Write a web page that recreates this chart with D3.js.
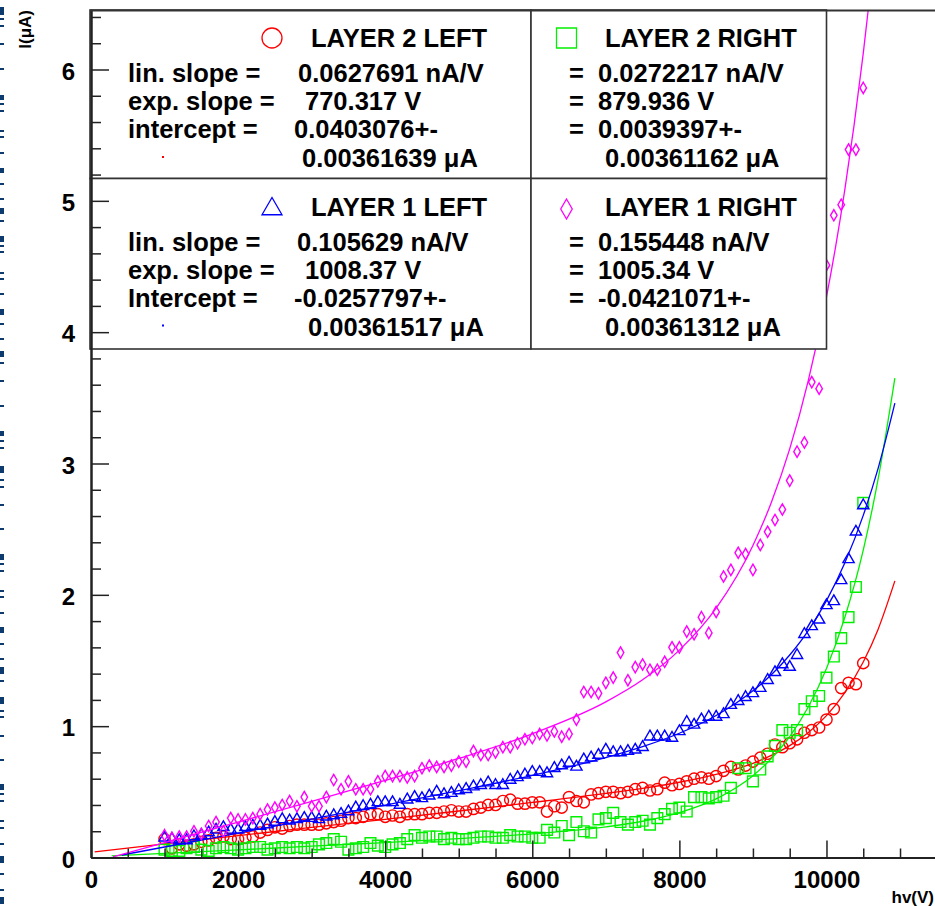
<!DOCTYPE html>
<html>
<head>
<meta charset="UTF-8">
<style>
  body { margin: 0; background: #fff; }
  svg text { font-family: "Liberation Sans", Arial, Helvetica, sans-serif; font-weight: bold; }
</style>
</head>
<body>
<div id="chart"></div>
<script src="https://cdn.jsdelivr.net/npm/d3@7"></script>
<script>
// high voltage settings (V)
var hv = [1000,1100,1200,1300,1400,1500,1600,1700,1800,1900,
          2000,2100,2200,2300,2400,2500,2600,2700,2800,2900,
          3000,3100,3200,3300,3400,3500,3600,3700,3800,3900,
          4000,4100,4200,4300,4400,4500,4600,4700,4800,4900,
          5000,5100,5200,5300,5400,5500,5600,5700,5800,5900,
          6000,6100,6200,6300,6400,6500,6600,6700,6800,6900,
          7000,7100,7200,7300,7400,7500,7600,7700,7800,7900,
          8000,8100,8200,8300,8400,8500,8600,8700,8800,8900,
          9000,9100,9200,9300,9400,9500,9600,9700,9800,9900,
          10000,10100,10200,10300,10400,10500];

// measured currents (uA)
var layer2Left = [0.14,0.07,0.10,0.09,0.10,0.12,0.13,0.15,0.16,0.14,
                  0.14,0.15,0.16,0.19,0.21,0.23,0.22,0.24,0.25,0.25,
                  0.25,0.25,0.26,0.27,0.28,0.30,0.30,0.31,0.33,0.33,
                  0.31,0.32,0.31,0.33,0.33,0.33,0.34,0.34,0.35,0.36,
                  0.35,0.35,0.37,0.38,0.40,0.40,0.43,0.44,0.41,0.41,
                  0.42,0.42,0.35,0.39,0.38,0.46,0.43,0.42,0.48,0.49,
                  0.50,0.50,0.49,0.50,0.52,0.53,0.51,0.52,0.57,0.55,
                  0.56,0.58,0.60,0.61,0.60,0.62,0.66,0.69,0.67,0.70,
                  0.73,0.76,0.79,0.86,0.84,0.87,0.90,0.95,0.97,0.99,
                  1.05,1.13,1.29,1.33,1.32,1.48];
var layer2Right = [0.06,0.05,0.05,0.07,0.08,0.06,0.05,0.07,0.08,0.07,
                   0.06,0.07,0.08,0.08,0.06,0.07,0.08,0.07,0.08,0.07,
                   0.08,0.10,0.11,0.14,0.12,0.06,0.07,0.08,0.11,0.09,
                   0.08,0.10,0.11,0.14,0.17,0.15,0.16,0.16,0.14,0.15,
                   0.14,0.14,0.15,0.16,0.16,0.15,0.15,0.17,0.16,0.16,
                   0.15,0.15,0.21,0.19,0.24,0.17,0.27,0.20,0.19,0.29,
                   0.30,0.34,0.27,0.25,0.27,0.28,0.25,0.30,0.33,0.37,
                   0.38,0.35,0.46,0.46,0.45,0.46,0.47,0.53,0.68,0.68,
                   0.58,0.67,0.77,0.85,0.97,0.95,0.97,1.13,1.19,1.23,
                   1.37,1.53,1.67,1.83,2.06,2.70];
var layer1Left = [0.15,0.14,0.13,0.13,0.16,0.17,0.19,0.21,0.23,0.21,
                  0.21,0.23,0.24,0.24,0.25,0.27,0.29,0.28,0.29,0.30,
                  0.30,0.29,0.31,0.32,0.33,0.35,0.38,0.39,0.40,0.42,
                  0.42,0.42,0.40,0.44,0.46,0.45,0.47,0.50,0.48,0.49,
                  0.51,0.52,0.54,0.55,0.57,0.55,0.55,0.59,0.61,0.63,
                  0.65,0.65,0.64,0.68,0.70,0.72,0.69,0.745,0.76,0.78,
                  0.82,0.80,0.80,0.81,0.82,0.84,0.92,0.92,0.92,0.91,
                  0.96,1.03,1.01,1.05,1.07,1.07,1.09,1.16,1.19,1.22,
                  1.25,1.29,1.35,1.41,1.47,1.45,1.54,1.70,1.76,1.81,
                  1.92,1.95,2.11,2.27,2.48,2.68];
var layer1Right = [0.17,0.15,0.16,0.16,0.20,0.18,0.24,0.27,0.20,0.30,
                   0.29,0.29,0.30,0.33,0.365,0.38,0.40,0.43,0.39,0.46,
                   0.39,0.39,0.46,0.59,0.52,0.58,0.52,0.52,0.52,0.58,
                   0.62,0.62,0.62,0.61,0.62,0.68,0.70,0.69,0.69,0.70,
                   0.73,0.73,0.81,0.78,0.78,0.80,0.84,0.84,0.87,0.90,
                   0.91,0.94,0.93,0.96,0.92,0.94,1.05,1.26,1.26,1.25,
                   1.33,1.37,1.56,1.35,1.45,1.47,1.43,1.43,1.49,1.60,
                   1.60,1.72,1.70,1.83,1.71,1.87,2.14,2.19,2.32,2.31,
                   2.19,2.38,2.48,2.57,2.65,2.87,3.09,3.16,3.62,3.57,
                   4.51,4.89,4.97,5.39,5.39,5.86];

var fitHvL2Left  = [50,1000,2000,3000,4000,5000,6000,7000,7500,8000,8500,9000,9250,9500,9750,10000,10250,10500,10700,10930];
var fitL2Left    = [0.043,0.103,0.166,0.229,0.291,0.354,0.419,0.488,0.527,0.573,0.633,0.717,0.777,0.852,0.950,1.080,1.255,1.489,1.735,2.106];
var fitHvL2Right = [280,1000,2000,3000,4000,5000,6000,7000,7500,8000,8500,9000,9250,9500,9750,10000,10250,10500,10700,10930];
var fitL2Right   = [0.012,0.031,0.058,0.086,0.114,0.144,0.180,0.233,0.276,0.342,0.446,0.622,0.753,0.921,1.144,1.440,1.829,2.34,2.875,3.65];
var fitHvL1Left  = [420,1000,2000,3000,4000,5000,6000,7000,7500,8000,8500,9000,9250,9500,9750,10000,10250,10500,10700,10930];
var fitL1Left    = [0.019,0.080,0.186,0.292,0.399,0.509,0.625,0.761,0.844,0.946,1.081,1.269,1.391,1.542,1.726,1.956,2.244,2.605,2.959,3.459];
var fitHvL1Right = [300,1000,2000,3000,4000,5000,6000,7000,7500,8000,8500,9000,9250,9500,9750,10000,10125,10250,10375,10500,10600];
var fitL1Right   = [0.005,0.114,0.270,0.427,0.587,0.754,0.942,1.185,1.353,1.579,1.898,2.376,2.703,3.111,3.626,4.269,4.654,5.087,5.575,6.123,6.613];

// legend texts
var legendTitles   = ["LAYER 2 LEFT", "LAYER 2 RIGHT", "LAYER 1 LEFT", "LAYER 1 RIGHT"];
var paramNames     = [["lin. slope =", "exp. slope =", "intercept ="], ["lin. slope =", "exp. slope =", "Intercept ="]];
var linSlopes      = ["0.0627691", "0.0272217", "0.105629", "0.155448"];
var expSlopes      = ["770.317", "879.936", "1008.37", "1005.34"];
var intercepts     = ["0.0403076", "0.0039397", "-0.0257797", "-0.0421071"];
var interceptErrs  = ["0.00361639", "0.00361162", "0.00361517", "0.00361312"];

// axis ticks
var xMajor = [0, 2000, 4000, 6000, 8000, 10000];
var yMajor = [0, 1, 2, 3, 4, 5, 6];

var width = 935, height = 906;

var svg = d3.select("#chart").append("svg")
    .attr("width", width)
    .attr("height", height);

// the dashed navy edge on the left of the original screenshot
var edgeMarks = [[7,8],[18,2],[25,2],[43,2],[68,2],[95,5],[103,2],[110,2],[130,2],[136,2],[152,2],
                 [168,5],[183,2],[198,2],[208,6],[220,2],[236,6],[245,2],[251,2],[272,2],[278,2],[293,2],
                 [309,6],[323,2],[338,2],[351,6],[362,2],[380,2],[405,2],[431,5],[440,2],[447,2],
                 [466,7],[479,2],[486,2],[504,2],[528,2],[554,6],[563,2],[570,2],[590,2],[596,2],[612,2],
                 [627,6],[643,2],[658,2],[667,7],[680,2],[697,7],[710,2],[716,2],[735,2],[759,2],
                 [784,6],[793,2],[800,2],[820,2],[827,2],[843,2],[856,7],[873,2],[889,2],[897,7]];
svg.append("g").selectAll("rect")
    .data(edgeMarks)
    .enter().append("rect")
      .attr("x", 0)
      .attr("y", function(d) { return d[0]; })
      .attr("width", 4)
      .attr("height", function(d) { return d[1]; })
      .style("fill", "#0d3b6e");

var x = d3.scaleLinear().domain([0, 11500]).range([91, 936.8]);
var y = d3.scaleLinear().domain([0, 6.45]).range([857.5, 10.4]);

svg.append("clipPath").attr("id", "plotArea")
  .append("rect")
    .attr("x", x(0)).attr("y", y(6.45))
    .attr("width", x(11500) - x(0)).attr("height", y(0) - y(6.45));

var series = [
  { values: layer2Left,  fitHv: fitHvL2Left,  fit: fitL2Left,  color: "#ff0000", symbol: d3.symbolCircle,   size: 100, legendSize: 314 },
  { values: layer2Right, fitHv: fitHvL2Right, fit: fitL2Right, color: "#00f000", symbol: d3.symbolSquare,   size: 115, legendSize: 400 },
  { values: layer1Left,  fitHv: fitHvL1Left,  fit: fitL1Left,  color: "#0000ff", symbol: d3.symbolTriangle, size: 55,  legendSize: 173 },
  { values: layer1Right, fitHv: fitHvL1Right, fit: fitL1Right, color: "#ff00ff", symbol: d3.symbolDiamond,  size: 37,  legendSize: 115 }
];

var fitLine = d3.line()
    .curve(d3.curveMonotoneX)
    .x(function(d) { return x(d[0]); })
    .y(function(d) { return y(d[1]); });

var plot = svg.append("g").attr("clip-path", "url(#plotArea)");

series.forEach(function(s) {
    plot.append("path")
        .datum(d3.zip(s.fitHv, s.fit))
        .attr("d", fitLine)
        .style("fill", "none")
        .style("stroke", s.color)
        .style("stroke-width", 1.3);

    plot.append("g").selectAll("path")
        .data(d3.zip(hv, s.values))
        .enter().append("path")
          .attr("d", d3.symbol().type(s.symbol).size(s.size))
          .attr("transform", function(d) { return "translate(" + x(d[0]) + "," + y(d[1]) + ")"; })
          .style("fill", "none")
          .style("stroke", s.color)
          .style("stroke-width", 1.4);
});

// legend boxes
var boxLeft = [90, 531], boxRight = [531, 826.5];
var boxTop = [10, 178.5], boxBottom = [178.5, 349];
var leftValueX = [[298, 305, 294, 302], [297, 305, 294, 308]];
var markerX = [272, 566.5], markerY = [38, 209];

var legend = svg.append("g");
legendTitles.forEach(function(title, i) {
    var col = i % 2, row = Math.floor(i / 2), top = boxTop[row];
    legend.append("rect")
        .attr("x", boxLeft[col]).attr("y", top)
        .attr("width", boxRight[col] - boxLeft[col])
        .attr("height", boxBottom[row] - top)
        .style("fill", "#fff")
        .style("stroke", "#333")
        .style("stroke-width", 1.6);

    var g = legend.append("g").style("font-size", "25.5px");
    g.append("path")
        .attr("d", d3.symbol().type(series[i].symbol).size(series[i].legendSize))
        .attr("transform", "translate(" + markerX[col] + "," + markerY[row] + ")")
        .style("fill", "none")
        .style("stroke", series[i].color)
        .style("stroke-width", 1.3);
    g.append("text").attr("x", col ? 605 : 311).attr("y", top + 37).text(title);

    var vals = [linSlopes[i] + " nA/V", expSlopes[i] + " V", intercepts[i] + "+-"];
    var rowsY = [top + 72, top + 100, top + 128];
    if (col === 0) {
        paramNames[row].forEach(function(name, k) {
            g.append("text").attr("x", 128).attr("y", rowsY[k]).text(name);
            g.append("text").attr("x", leftValueX[row][k]).attr("y", rowsY[k]).text(vals[k]);
        });
        g.append("text").attr("x", leftValueX[row][3]).attr("y", top + 157).text(interceptErrs[i] + " \u03bcA");
        g.append("rect")
            .attr("x", 162).attr("y", top + 146)
            .attr("width", 2).attr("height", 2)
            .style("fill", series[i].color);
    } else {
        vals.forEach(function(v, k) {
            g.append("text").attr("x", 569).attr("y", rowsY[k]).text("=");
            g.append("text").attr("x", 598).attr("y", rowsY[k]).text(v);
        });
        g.append("text").attr("x", 605).attr("y", top + 157).text(interceptErrs[i] + " \u03bcA");
    }
});

// axes (ticks inside the frame, ROOT style)
var xMinor = d3.range(0, 11501, 500).filter(function(v) { return v % 2000 !== 0; });
var yMinor = d3.range(0, 6.45, 0.2).filter(function(v) { return Math.abs(v - Math.round(v)) > 0.01; });

function styleAxis(g) {
    g.selectAll(".tick line").style("stroke", "#222").style("stroke-width", 1.5);
    g.select(".domain").style("stroke", "#222").style("stroke-width", 2);
    g.selectAll("text")
        .style("font-size", "24px")
        .style("fill", "#000")
        .attr("font-family", null);
}

svg.append("g")
    .attr("transform", "translate(0," + y(0) + ")")
    .call(d3.axisBottom(x).tickValues(xMinor).tickSize(-9).tickSizeOuter(0).tickFormat(""))
    .call(styleAxis);
svg.append("g")
    .attr("transform", "translate(0," + y(0) + ")")
    .call(d3.axisBottom(x).tickValues(xMajor).tickSize(-17).tickSizeOuter(0).tickPadding(13).tickFormat(d3.format("d")))
    .call(styleAxis);

svg.append("g")
    .attr("transform", "translate(" + x(0) + ",0)")
    .call(d3.axisLeft(y).tickValues(yMinor).tickSize(-10).tickSizeOuter(0).tickFormat(""))
    .call(styleAxis);
svg.append("g")
    .attr("transform", "translate(" + x(0) + ",0)")
    .call(d3.axisLeft(y).tickValues(yMajor).tickSize(-18).tickSizeOuter(0).tickPadding(16).tickFormat(d3.format("d")))
    .call(styleAxis)
    .selectAll("text").attr("dy", "0.4em");

// top of the frame
svg.append("line")
    .attr("x1", x(0) - 1).attr("x2", width)
    .attr("y1", y(6.45)).attr("y2", y(6.45))
    .style("stroke", "#333")
    .style("stroke-width", 2);

// axis titles
svg.append("text")
    .attr("transform", "translate(31,10) rotate(-90)")
    .attr("text-anchor", "end")
    .style("font-size", "17px")
    .text("I(\u03bcA)");
svg.append("text")
    .attr("x", 934).attr("y", 903)
    .attr("text-anchor", "end")
    .style("font-size", "17px")
    .text("hv(V)");
</script>
</body>
</html>
